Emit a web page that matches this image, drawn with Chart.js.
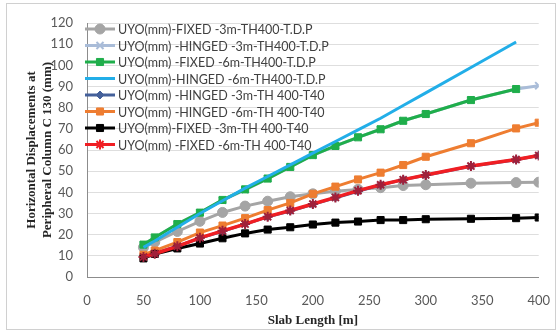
<!DOCTYPE html>
<html>
<head>
<meta charset="utf-8">
<script src="https://cdn.jsdelivr.net/npm/chart.js@4.4.0/dist/chart.umd.min.js"></script>
<style>
  body { margin: 0; background: #fff; }
  #wrap { width: 558px; height: 332px; }
</style>
</head>
<body>
<div id="wrap"><canvas id="chart" width="558" height="332"></canvas></div>
<script>
// slab lengths (m)
var lengths = [50, 60, 80, 100, 120, 140, 160, 180, 200, 220, 240, 260, 280, 300, 340, 380, 400];

var fixed3TDP  = [14, 16.5, 21.5, 26.3, 30.5, 33.5, 35.8, 37.9, 39.3, 40.5, 41.4, 42.2, 43.2, 43.6, 44.3, 44.6, 44.8];
var hinged3TDP = [15.2, 18.6, 25, 30.4, 36.2, 41.2, 46.5, 52, 57.5, 61.9, 66, 69.8, 73.8, 77, 83.6, 88.8, 90.4];
var fixed6TDP  = [15.3, 18.7, 25, 30.4, 36.4, 41.4, 46.5, 52, 57.6, 61.9, 66, 69.8, 73.8, 77, 83.6, 88.8];
var hinged6TDP = [14, 17, 23.5, 30, 36, 42, 47.5, 53, 58.5, 64, 69.5, 75, 81, 87, 99, 111];
var hinged3T40 = [9.6, 11.1, 14.6, 18.4, 21.6, 25, 28.4, 31.2, 34.3, 37.4, 40.5, 43.5, 46, 48.1, 52.3, 55.4, 57.4];
var hinged6T40 = [10.5, 12.5, 16.5, 21, 24.3, 27.8, 31.6, 35, 39.3, 42.7, 46.1, 49.3, 52.9, 56.8, 63.2, 70.2, 72.9];
var fixed3T40  = [8.8, 10.9, 13.5, 15.8, 18.3, 20.6, 22.4, 23.5, 24.8, 25.7, 26.2, 26.9, 26.9, 27.3, 27.5, 27.8, 28.1];
var fixed6T40  = [9.5, 11, 14.5, 18.5, 21.8, 25, 28.5, 31.4, 34.5, 37.6, 40.8, 43.6, 46, 48.2, 52.4, 55.5, 57.4];

function pts(vals) {
    return vals.map(function (v, i) { return { x: lengths[i], y: v }; });
}

var series = [
    { label: 'UYO(mm)-FIXED -3m-TH400-T.D.P',   data: fixed3TDP,  color: '#a5a5a5', style: 'circle',   r: 5 },
    { label: 'UYO(mm) -HINGED -3m-TH400-T.D.P', data: hinged3TDP, color: '#a9bcd8', style: 'crossRot', r: 5 },
    { label: 'UYO(mm) -FIXED -6m-TH400-T.D.P',  data: fixed6TDP,  color: '#1fae4b', style: 'rect',     r: 5 },
    { label: 'UYO(mm)-HINGED -6m-TH400-T.D.P',  data: hinged6TDP, color: '#22aee8', style: 'circle',   r: 0 },
    { label: 'UYO(mm) -HINGED -3m-TH 400-T40',  data: hinged3T40, color: '#44609a', style: 'rectRot',  r: 4 },
    { label: 'UYO(mm) -HINGED -6m-TH 400-T40',  data: hinged6T40, color: '#ee7d31', style: 'rect',     r: 5 },
    { label: 'UYO(mm)-FIXED -3m-TH 400-T40',    data: fixed3T40,  color: '#000000', style: 'rect',     r: 5 },
    { label: 'UYO(mm) -FIXED -6m-TH 400-T40',   data: fixed6T40,  color: '#f01e23', style: 'star',     r: 5 }
];

// frame + white background
var framePlugin = {
    id: 'frame',
    beforeDraw: function (chart) {
        var c = chart.ctx;
        c.save();
        c.fillStyle = '#fff';
        c.fillRect(0, 0, chart.width, chart.height);
        c.strokeStyle = '#d0d0d0';
        c.lineWidth = 1;
        c.strokeRect(6.5, 3.5, 549, 326);
        c.restore();
    }
};

// legend inside the plot, top-left, one row per series
var insideLegend = {
    id: 'insideLegend',
    afterDatasetsDraw: function (chart) {
        var c = chart.ctx;
        c.save();
        c.font = '12.5px Lato';
        c.textBaseline = 'middle';
        series.forEach(function (s, i) {
            var y = 29 + i * 16.5;
            c.strokeStyle = s.color;
            c.lineWidth = 3;
            c.beginPath();
            c.moveTo(85, y);
            c.lineTo(115, y);
            c.stroke();
            if (s.r > 0) {
                c.fillStyle = s.color;
                c.lineWidth = s.style == 'star' || s.style == 'crossRot' ? 2 : 1;
                Chart.helpers.drawPoint(c, { pointStyle: s.style, radius: s.r, rotation: 0, borderWidth: c.lineWidth }, 100, y);
            }
            c.fillStyle = '#404040';
            c.fillText(s.label, 118, y + 1);
        });
        c.restore();
    }
};

var ctx = document.getElementById('chart').getContext('2d');
var myChart = new Chart(ctx, {
    type: 'line',
    data: {
        datasets: series.map(function (s, i) {
            return {
                label: s.label,
                data: pts(s.data),
                borderColor: s.color,
                backgroundColor: s.color,
                pointBorderColor: s.style == 'star' ? '#a0203a' : s.color,
                pointBackgroundColor: s.color,
                pointStyle: s.style,
                pointRadius: s.r,
                pointBorderWidth: s.style == 'star' || s.style == 'crossRot' ? 2 : 1,
                borderWidth: s.style == 'star' ? 3.5 : 3,
                order: series.length - i
            };
        })
    },
    options: {
        responsive: false,
        animation: false,
        layout: { padding: { left: 16, top: 23, right: 18, bottom: 4 } },
        plugins: {
            legend: { display: false },
            tooltip: { enabled: false }
        },
        scales: {
            x: {
                type: 'linear',
                min: 0,
                max: 400,
                afterFit: function (s) { s.height = 51; },
                ticks: { stepSize: 50, color: '#595959', font: { family: 'Lato', size: 13 }, padding: 8 },
                grid: { display: false },
                border: { color: '#8c8c8c', width: 1 },
                title: {
                    display: true,
                    text: 'Slab Length [m]',
                    color: '#262626',
                    font: { family: 'Liberation Serif', size: 13, weight: 'bold' },
                    padding: { top: 0, bottom: 0 }
                }
            },
            y: {
                min: 0,
                max: 120,
                afterFit: function (s) { s.width = 71; },
                ticks: { stepSize: 10, color: '#595959', font: { family: 'Lato', size: 13 }, padding: 14 },
                grid: { color: '#dedede', drawTicks: false },
                border: { color: '#8c8c8c', width: 1 },
                title: {
                    display: true,
                    text: ['Horizontal Displacements at', 'Peripheral Column C 130 (mm)'],
                    color: '#262626',
                    font: { family: 'Liberation Serif', size: 13, weight: 'bold' },
                    padding: { top: 8, bottom: 0 }
                }
            }
        }
    },
    plugins: [framePlugin, insideLegend]
});
</script>
</body>
</html>
